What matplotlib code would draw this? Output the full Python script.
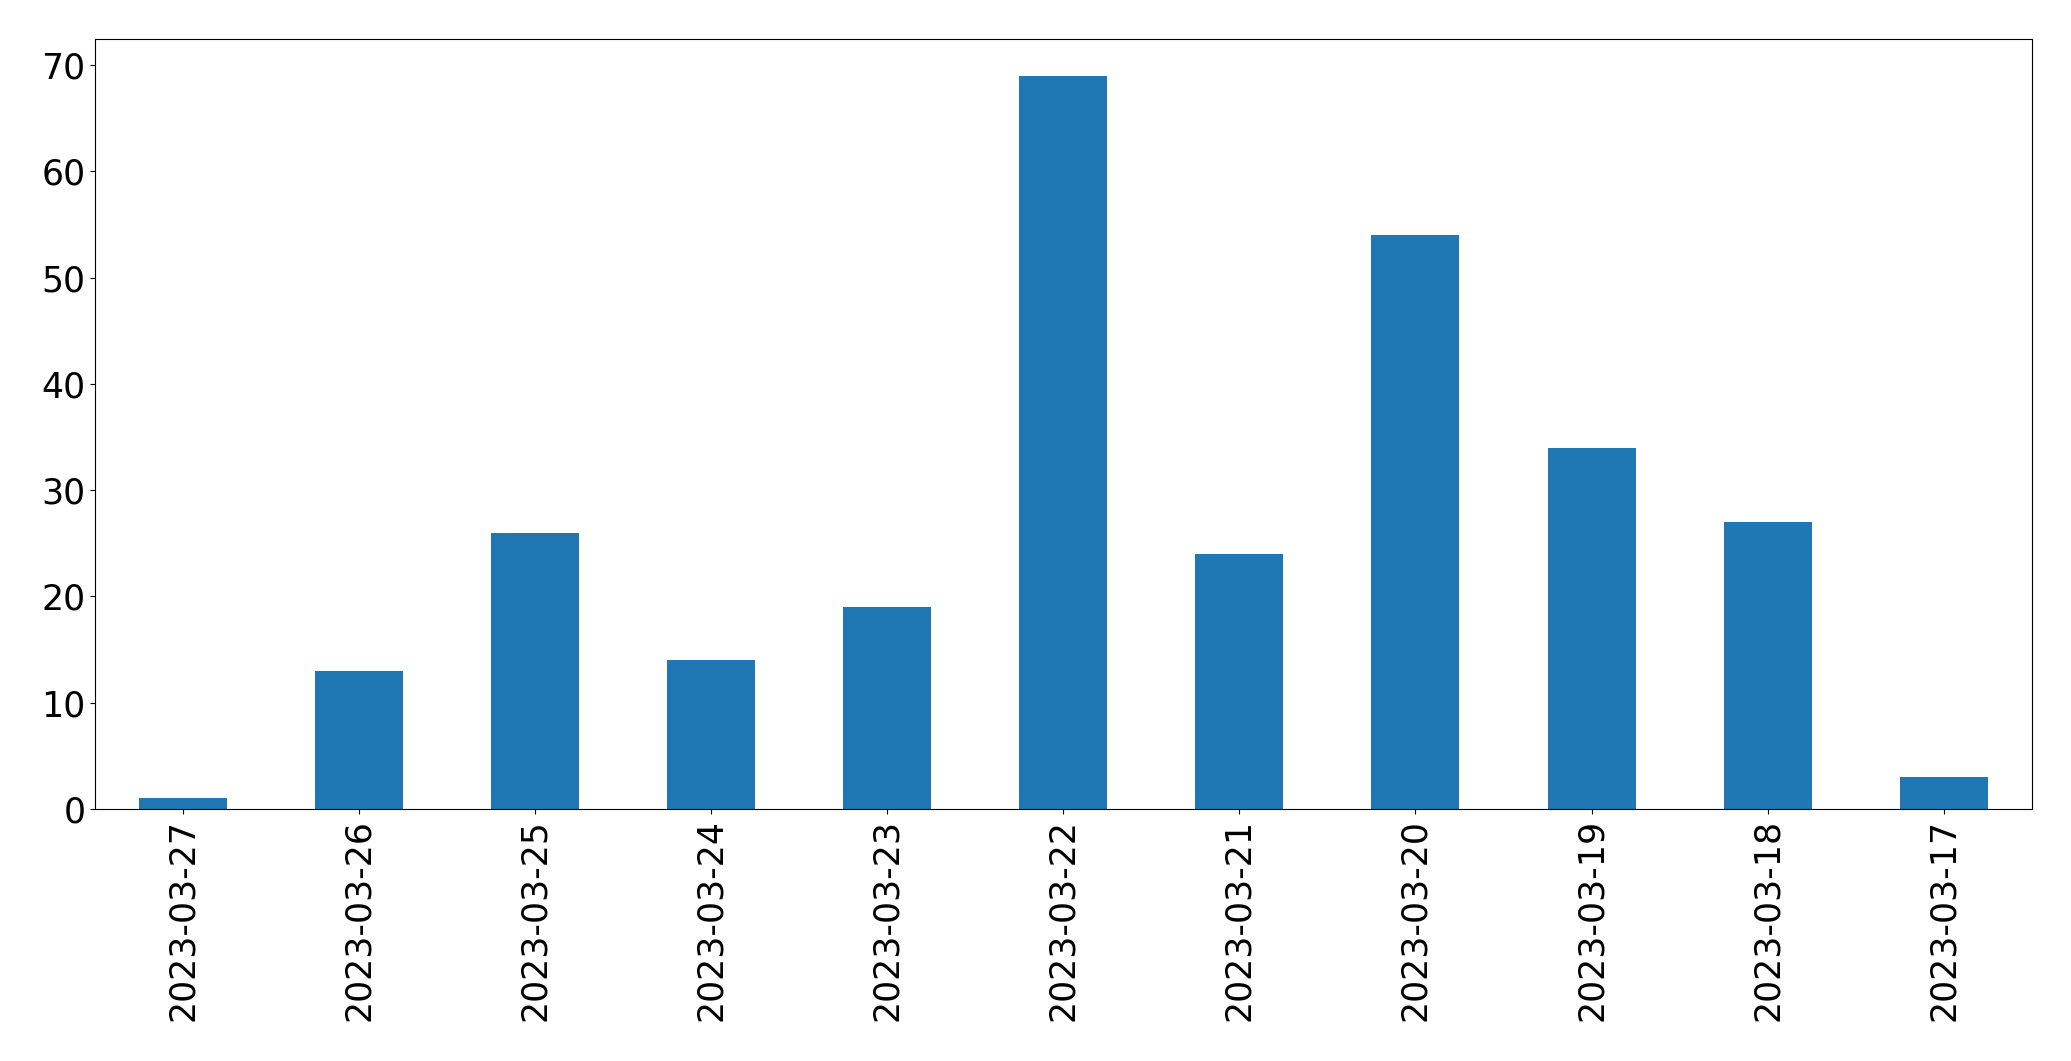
import matplotlib
matplotlib.use('Agg')
import matplotlib.pyplot as plt
import numpy as np

# daily counts, newest first (as in the reference)
dates = ['2023-03-27', '2023-03-26', '2023-03-25', '2023-03-24', '2023-03-23',
         '2023-03-22', '2023-03-21', '2023-03-20', '2023-03-19', '2023-03-18',
         '2023-03-17']
counts = [1, 13, 26, 14, 19, 69, 24, 54, 34, 27, 3]

fig, ax = plt.subplots(figsize=(20.71, 10.61), dpi=100)
fig.subplots_adjust(left=0.0459, right=0.981, top=0.9632, bottom=0.2375)

x = np.arange(len(dates))
ax.bar(x, counts, width=0.5, color='#1f77b4')
ax.set_xlim(-0.5, len(dates) - 0.5)
ax.set_ylim(0, max(counts) * 1.05)
ax.set_xticks(x)
ax.set_xticklabels(dates, rotation=90)
ax.tick_params(labelsize=25)

fig.savefig('out.png', dpi=100)
